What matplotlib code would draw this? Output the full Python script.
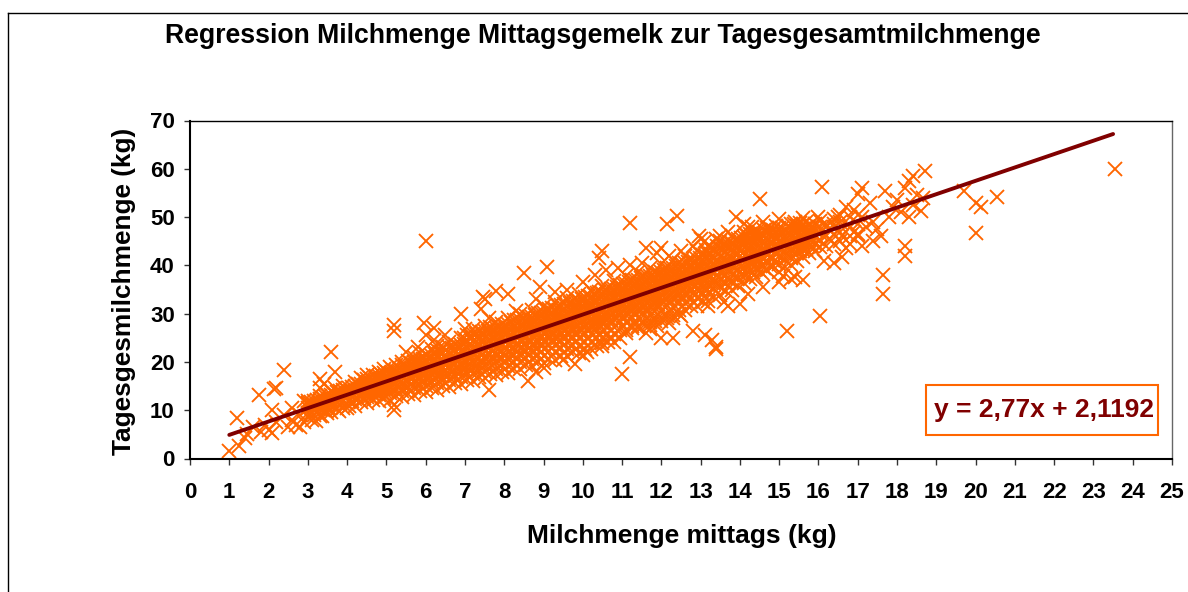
import matplotlib
matplotlib.use("Agg")
import matplotlib.pyplot as plt
from matplotlib.lines import Line2D

plt.rcParams['font.family'] = ['Liberation Sans', 'DejaVu Sans']

title = "Regression Milchmenge Mittagsgemelk zur Tagesgesamtmilchmenge"
x_label = "Milchmenge mittags (kg)"
y_label = "Tagesgesmilchmenge (kg)"
equation = "y = 2,77x + 2,1192"
x_ticks = list(range(0, 26))
y_ticks = list(range(0, 71, 10))
trend_x = [1.0, 23.5]
trend_y = [4.89, 67.2]

# dense core of the cloud, one list of readings per milk-yield column
core_columns = {
 3.0:[8.6,9.5,10.4,11.3,12.0], 3.15:[9.0,10.1,11.0,11.9], 3.3:[8.9,10.2,11.2,12.3,13.0], 3.45:[9.8,10.9,11.8,12.7],
 3.6:[9.7,11.0,12.2,13.2,14.0], 3.75:[10.3,11.5,12.6,13.7], 3.9:[10.4,11.9,13.0,14.2,15.0], 4.05:[10.8,12.0,13.4,14.5],
 4.2:[10.9,12.4,13.7,15.0,15.9], 4.35:[11.6,12.9,14.3,15.5,16.6], 4.5:[11.5,12.7,14.0,15.3,16.5,17.3], 4.65:[12.1,13.4,14.9,16.1,17.2],
 4.8:[12.0,13.2,14.5,15.8,17.0,18.0], 4.95:[12.6,13.9,15.2,16.5,17.8,18.6], 5.1:[12.2,13.6,14.9,16.2,17.5,18.9], 5.25:[12.9,14.3,15.7,17.0,18.2,19.4],
 5.4:[12.8,14.0,15.4,16.8,18.1,19.3,20.0], 5.55:[13.4,14.8,16.1,17.5,18.8,20.2], 5.7:[13.2,14.5,15.9,17.2,18.6,19.9,21.0], 5.85:[13.9,15.3,16.6,18.0,19.3,20.7,21.9],
 6.0:[13.8,15.1,16.4,17.8,19.1,20.5,21.7], 6.15:[14.5,15.8,17.2,18.5,19.9,21.2,22.6], 6.3:[14.2,15.6,17.0,18.4,19.7,21.1,22.4,23.4], 6.45:[15.0,16.3,17.7,19.0,20.4,21.8,23.1],
 6.6:[14.9,16.2,17.5,18.9,20.3,21.6,23.0,24.1], 6.75:[15.6,17.0,18.3,19.7,21.1,22.4,23.8], 6.9:[15.4,16.8,18.2,19.5,20.9,22.3,23.6,25.0], 7.05:[16.2,17.5,18.9,20.3,21.6,23.0,24.4,25.6],
 7.2:[16.0,17.4,18.8,20.2,21.6,22.9,24.3,25.7,26.8], 7.35:[16.8,18.1,19.5,20.9,22.3,23.7,25.0,26.4], 7.5:[16.6,18.0,19.4,20.8,22.2,23.6,25.0,26.4,27.5], 7.65:[17.5,18.9,20.3,21.7,23.1,24.5,25.9,27.3],
 7.8:[17.2,18.6,20.0,21.4,22.8,24.2,25.6,27.0,28.3], 7.95:[18.0,19.4,20.8,22.2,23.6,25.0,26.4,27.8], 8.1:[17.8,19.2,20.7,22.1,23.5,24.9,26.3,27.8,29.0], 8.25:[18.6,20.0,21.5,22.9,24.3,25.7,27.2,28.6],
 8.4:[18.6,20.0,21.4,22.9,24.3,25.7,27.2,28.6,30.0], 8.55:[19.4,20.8,22.3,23.7,25.2,26.6,28.0,29.5], 8.7:[19.2,20.6,22.1,23.5,25.0,26.5,27.9,29.4,30.8], 8.85:[20.0,21.5,22.9,24.4,25.8,27.3,28.8,30.2],
 9.0:[19.8,21.3,22.7,24.2,25.7,27.2,28.6,30.1,31.6], 9.15:[20.7,22.2,23.6,25.1,26.6,28.1,29.5,31.0], 9.3:[20.5,22.0,23.5,25.0,26.5,28.0,29.5,31.0,32.4], 9.45:[21.3,22.8,24.3,25.8,27.3,28.8,30.3,31.8],
 9.6:[21.2,22.7,24.2,25.7,27.2,28.7,30.2,31.7,33.2], 9.75:[22.0,23.5,25.0,26.6,28.1,29.6,31.1,32.6], 9.9:[21.9,23.4,24.9,26.5,28.0,29.5,31.0,32.6,34.0], 10.05:[22.6,24.2,25.7,27.3,28.8,30.3,31.9,33.4],
 10.2:[22.6,24.1,25.7,27.2,28.8,30.3,31.9,33.4,35.0], 10.35:[23.4,25.0,26.5,28.1,29.6,31.2,32.7,34.3], 10.5:[23.3,24.9,26.4,28.0,29.6,31.1,32.7,34.3,35.8], 10.65:[24.2,25.7,27.3,28.9,30.4,32.0,33.6,35.1],
 10.8:[24.2,25.7,27.3,28.9,30.5,32.1,33.6,35.2,36.7], 10.95:[25.0,26.6,28.2,29.8,31.3,32.9,34.5,36.0], 11.1:[26.0,26.6,28.2,29.8,31.4,33.0,34.5,36.1,37.7], 11.25:[27.0,27.4,29.0,30.6,32.2,33.8,35.4,36.9],
 11.4:[27.0,27.4,29.0,30.6,32.2,33.8,35.4,37.0,38.6], 11.55:[27.6,28.2,29.8,31.4,33.0,34.6,36.2,37.8], 11.7:[27.6,28.2,29.8,31.4,33.0,34.6,36.2,37.8,39.4], 11.85:[28.4,29.0,30.6,32.2,33.8,35.4,37.1,38.7],
 12.0:[28.4,29.0,30.6,32.3,33.9,35.5,37.1,38.7,40.3], 12.15:[29.2,29.8,31.5,33.1,34.7,36.3,37.9,39.5], 12.3:[29.2,29.8,31.4,33.1,34.7,36.3,37.9,39.5,41.1], 12.45:[30.0,30.7,32.3,33.9,35.5,37.1,38.8,40.4],
 12.6:[30.7,32.3,33.9,35.5,37.2,38.8,40.4,42.0], 12.75:[31.5,33.1,34.8,36.4,38.0,39.6,41.2], 12.9:[31.5,33.2,34.8,36.4,38.1,39.7,41.3,42.9], 13.05:[32.4,34.0,35.6,37.3,38.9,40.5,42.1],
 13.2:[32.6,34.3,35.9,37.5,39.2,40.8,42.4,44.0], 13.35:[33.5,35.1,36.7,38.4,40.0,41.6,43.2], 13.5:[33.8,35.5,37.1,38.7,40.4,42.0,43.6,45.1], 13.65:[34.6,36.3,37.9,39.5,41.2,42.8,44.3],
 13.8:[35.0,36.6,38.3,39.9,41.5,43.1,44.7,46.0], 13.95:[35.8,37.4,39.1,40.7,42.3,43.9,45.5], 14.1:[36.3,37.9,39.5,41.2,42.8,44.4,45.9,47.0], 14.25:[37.2,38.8,40.4,42.0,43.6,45.2,46.5],
 14.4:[37.6,39.2,40.9,42.5,44.1,45.6,47.0], 14.55:[38.5,40.1,41.7,43.3,44.9,46.3], 14.7:[39.0,40.6,42.2,43.8,45.3,46.8,47.8], 14.85:[39.9,41.5,43.1,44.6,46.1,47.4],
 15.0:[38.7,40.3,41.9,43.5,45.0,46.5,47.8], 15.15:[39.6,41.2,42.8,44.3,45.8,47.2], 15.3:[40.0,41.6,43.2,44.7,46.2,47.6,48.6], 15.45:[41.0,42.5,44.0,45.5,46.9,48.1],
 15.6:[41.7,43.2,44.6,46.1,47.5,48.6], 15.75:[42.6,44.0,45.4,46.8,48.1], 15.9:[43.0,44.5,45.9,47.3,48.6], 16.05:[43.8,45.2,46.6,48.0,49.2],
}

# further readings packed around the regression line
fill_columns = {
 3.075:[9.4,10.6,11.7], 3.225:[9.8,11.0,12.2], 3.375:[10.1,11.5,12.6], 3.525:[10.6,11.9,13.1], 3.675:[10.9,12.3,13.6], 3.825:[11.2,12.7,14.0],
 3.975:[11.5,13.1,14.4], 4.125:[11.9,13.5,14.9], 4.275:[12.3,14.0,15.4], 4.425:[12.6,13.8,15.0,16.2], 4.575:[13.0,14.2,15.4,16.6], 4.725:[13.4,14.6,15.8,17.0],
 4.875:[13.7,15.0,16.2,17.4], 5.025:[14.0,15.4,16.6,17.9], 5.175:[14.4,15.8,17.1,18.4], 5.325:[14.7,16.2,17.5,18.8], 5.475:[15.1,16.6,17.9,19.2], 5.625:[15.5,17.0,18.4,19.7],
 5.775:[15.8,17.4,18.8,20.2], 5.925:[16.2,17.8,19.2,20.6], 6.075:[16.5,18.1,19.6,21.1], 6.225:[16.9,18.6,20.1,21.6], 6.375:[17.2,19.0,20.5,22.0], 6.525:[17.6,19.4,20.9,22.5],
 6.675:[17.9,19.8,21.3,22.9], 6.825:[18.3,20.2,21.7,23.4], 6.975:[18.6,20.5,22.1,23.8,25.0], 7.125:[18.8,20.7,22.3,23.8,25.3], 7.275:[19.2,21.1,22.7,24.2,25.7], 7.425:[19.6,21.5,23.1,24.6,26.1],
 7.575:[20.0,21.9,23.5,25.0,26.5], 7.725:[20.4,22.3,23.9,25.4,26.9], 7.875:[20.8,22.7,24.3,25.8,27.3], 8.025:[21.2,23.1,24.7,26.2,27.7], 8.175:[21.7,23.6,25.2,26.7,28.2], 8.325:[22.1,24.0,25.6,27.1,28.6],
 8.475:[22.5,24.4,26.0,27.5,29.0], 8.625:[22.9,24.8,26.4,27.9,29.4], 8.775:[23.3,25.2,26.8,28.3,29.8], 8.925:[23.7,25.6,27.2,28.7,30.2], 9.075:[24.2,26.1,27.7,29.2,30.7], 9.225:[24.6,26.5,28.1,29.6,31.1],
 9.375:[25.0,26.9,28.5,30.0,31.5], 9.525:[25.4,27.3,28.9,30.4,31.9], 9.675:[25.8,27.7,29.3,30.8,32.3], 9.825:[26.2,28.1,29.7,31.2,32.7], 9.975:[26.6,28.5,30.1,31.6,33.1], 10.125:[27.1,29.0,30.6,32.1,33.6],
 10.275:[27.5,29.4,31.0,32.5,34.0], 10.425:[27.9,29.8,31.4,32.9,34.4], 10.575:[28.3,30.2,31.8,33.3,34.8], 10.725:[28.7,30.6,32.2,33.7,35.2], 10.875:[29.1,31.0,32.6,34.1,35.6], 11.025:[29.6,31.5,33.1,34.6,36.1],
 11.175:[30.0,31.9,33.5,35.0,36.5], 11.325:[30.4,32.3,33.9,35.4,36.9], 11.475:[30.8,32.7,34.3,35.8,37.3], 11.625:[31.2,33.1,34.7,36.2,37.7], 11.775:[31.6,33.5,35.1,36.6,38.1], 11.925:[32.0,33.9,35.5,37.0,38.5],
 12.075:[32.5,34.4,36.0,37.5,39.0], 12.225:[32.9,34.8,36.4,37.9,39.4], 12.375:[33.3,35.2,36.8,38.3,39.8], 12.525:[33.7,35.6,37.2,38.7,40.2], 12.675:[34.1,36.0,37.6,39.1,40.6], 12.825:[34.5,36.4,38.0,39.5,41.0],
 12.975:[35.0,36.9,38.5,40.0,41.5], 13.125:[35.4,37.3,38.9,40.4,41.9,43.2], 13.275:[35.8,37.7,39.3,40.8,42.3,43.6], 13.425:[36.2,38.1,39.7,41.2,42.7,44.0], 13.575:[36.6,38.5,40.1,41.6,43.1,44.4], 13.725:[37.0,38.9,40.5,42.0,43.5,44.8],
 13.875:[37.5,39.4,41.0,42.5,44.0,45.3], 14.025:[37.9,39.8,41.4,42.9,44.4,45.7], 14.175:[38.3,40.2,41.8,43.3,44.8,46.1], 14.325:[38.7,40.6,42.2,43.7,45.2,46.5], 14.475:[39.1,41.0,42.6,44.1,45.6,46.9], 14.625:[39.5,41.4,43.0,44.5,46.0,47.3],
 14.775:[39.9,41.8,43.4,44.9,46.4,47.7], 14.925:[40.4,42.3,43.9,45.4,46.9,48.1], 15.075:[41.8,43.3,44.9,46.4,47.8], 15.225:[42.2,43.7,45.3,46.8,48.2], 15.375:[42.6,44.1,45.7,47.2,48.5], 15.525:[43.0,44.5,46.1,47.6,48.8],
 15.675:[43.4,44.9,46.5,47.9,49.0], 15.825:[44.0,45.4,46.9,48.2], 16.2:[44.0,46.0,48.0], 16.4:[44.5,46.5,48.5,49.5], 16.55:[45.0,47.0,49.0,50.5], 16.8:[46.0,48.0,50.0], 17.0:[46.0,48.5,50.5],
}

# sparse readings along the edges of the cloud and the outliers
edge_points = [
 (1.0,1.5),(1.2,8.3),(1.25,2.5),(1.4,4.2),(1.45,5.0),(1.75,13.2),(1.6,6.5),(1.8,5.5),(1.9,7.0),(2.0,6.0),(2.1,10.0),(2.15,14.3),(2.2,14.5),(2.1,5.2),(2.2,7.5),
 (2.4,18.3),(2.4,9.0),(2.5,6.5),(2.6,8.0),(2.7,7.0),(2.8,9.0),(2.9,12.0),(2.9,7.5),(3.0,11.5),(3.1,8.0),(3.3,16.5),(3.3,14.5),(3.35,8.8),(3.4,15.5),(3.6,22.0),
 (3.5,9.5),(3.7,18.0),(3.7,14.5),(3.8,9.8),(4.0,10.5),(5.2,27.7),(5.2,26.5),(5.2,10.0),(5.2,11.0),(5.95,28.0),(6.2,27.0),(6.0,25.5),(6.0,45.0),(6.9,30.0),(7.4,31.0),
 (7.45,33.5),(7.5,33.0),(7.8,34.7),(8.1,34.0),(8.5,38.5),(9.1,39.6),(8.9,35.5),(7.6,14.2),(8.6,16.0),(8.8,18.0),(9.0,18.8),(9.5,20.5),(9.8,19.5),(10.0,21.5),(10.1,22.0),
 (10.5,24.0),(10.7,25.0),(10.4,41.5),(10.5,43.0),(11.0,17.5),(11.2,21.0),(11.2,48.8),(11.6,26.0),(11.7,26.8),(11.9,42.5),(12.0,43.5),(12.3,25.0),(12.15,48.5),(12.4,50.3),
 (12.8,26.5),(13.0,45.5),(13.1,25.5),(13.3,24.5),(13.4,23.0),(13.4,22.6),(11.6,43.5),(12.0,25.0),(12.95,46.0),(13.5,46.0),(13.9,50.0),(14.4,46.5),(14.5,53.7),(14.1,48.5),
 (14.3,48.0),(13.7,31.5),(14.0,32.0),(15.2,26.5),(15.1,37.7),(15.3,37.2),(15.4,37.5),(15.6,37.0),(15.4,49.0),(16.05,29.5),(16.1,56.2),(16.15,41.0),(16.2,48.5),(16.4,40.5),
 (16.6,41.7),(16.7,43.5),(16.5,50.0),(16.3,45.5),(16.4,48.0),(16.6,46.0),(16.7,52.0),(16.8,44.5),(16.9,47.0),(16.9,51.5),(17.0,54.8),(17.0,46.5),(17.1,50.0),(17.1,44.0),
 (17.1,56.0),(17.2,48.0),(17.3,53.0),(17.4,45.0),(17.4,49.0),(17.5,47.5),(17.6,46.0),(17.65,38.0),(17.65,34.0),(17.7,55.3),(17.8,50.0),(17.9,52.0),(18.0,53.5),(18.1,51.0),
 (18.2,56.0),(18.2,44.0),(18.2,42.0),(18.3,50.0),(18.3,57.5),(18.4,52.5),(18.4,58.5),(18.5,54.5),(18.6,51.3),(18.65,54.0),(18.7,59.5),(19.7,55.5),(20.0,46.7),(20.0,53.0),
 (20.15,52.0),(20.55,54.2),(23.55,60.0),
 # upper fringe
 (5.5,22.0),(5.8,23.0),(6.2,24.5),(6.5,25.5),(7.0,26.8),(7.6,29.0),(8.3,30.5),(8.8,33.0),(9.3,34.5),(9.6,35.0),(10.0,36.5),(10.3,38.0),(10.6,39.0),(10.9,39.5),(11.2,40.0),(11.5,40.5),
 (12.2,42.0),(12.5,43.0),(12.8,44.0),(13.1,45.0),(13.4,45.5),(13.7,47.0),(14.2,48.0),(14.6,49.0),(15.0,49.5),(15.6,49.8),(16.0,50.0),
 # lower fringe
 (11.9,27.5),(12.2,28.0),(12.5,29.5),(13.2,31.5),(13.6,32.5),(14.2,34.0),(14.6,35.5),(15.0,36.5),(2.6,10.5),(2.8,6.5),(3.2,7.8),
]

core_x = [x for col in (core_columns, fill_columns) for x, ys in col.items() for _ in ys]
core_y = [y for col in (core_columns, fill_columns) for ys in col.values() for y in ys]
edge_x = [p[0] for p in edge_points]
edge_y = [p[1] for p in edge_points]

orange = "#FF6600"
dark = "#800000"
W, H = 1188, 592
fig = plt.figure(figsize=(W / 100, H / 100), dpi=100, facecolor="white")
ax = fig.add_axes([190 / W, 1 - 458.5 / H, (1172 - 190) / W, (458.5 - 120.5) / H])
ax.set_xlim(0, 25)
ax.set_ylim(0, 70)

ax.plot(core_x + edge_x, core_y + edge_y, linestyle="none", marker="x", color=orange,
        markersize=9.6, markeredgewidth=1.35, clip_on=False, zorder=2)
ax.plot(trend_x, trend_y, color=dark, linewidth=2.8, solid_capstyle="round", zorder=3)

ax.set_xticks(x_ticks)
ax.set_yticks(y_ticks)
ax.tick_params(axis="both", length=4.5, width=1, color="#333333", labelsize=16)
ax.tick_params(axis="y", pad=6.5)
ax.tick_params(axis="x", pad=12.5)
for lab in ax.get_xticklabels() + ax.get_yticklabels():
    lab.set_fontweight("bold")
ax.spines["left"].set_linewidth(1.5)
ax.spines["bottom"].set_linewidth(1.5)
ax.spines["top"].set_linewidth(1.0)
ax.spines["right"].set_linewidth(1.0)
ax.spines["right"].set_color("#666666")

fig.text(603 / W, 1 - 36 / H, title, ha="center", va="center", fontsize=19.15, fontweight="bold")
fig.text(681.5 / W, 1 - 535.5 / H, x_label, ha="center", va="center", fontsize=19, fontweight="bold")
fig.text(124 / W, 1 - 291 / H, y_label, ha="center", va="center", rotation=90, fontsize=18.9, fontweight="bold")
fig.text(1044 / W, 1 - 410 / H, equation, ha="center", va="center", fontsize=19, fontweight="bold", color=dark, zorder=5)
fig.add_artist(plt.Rectangle((926 / W, 1 - 435 / H), 232 / W, 50 / H, transform=fig.transFigure,
                             fill=False, edgecolor=orange, linewidth=1.5))

# outer chart frame, only its top and left edges fall inside the crop
fig.add_artist(Line2D([8 / W, 1], [1 - 12.5 / H, 1 - 12.5 / H], color="black", linewidth=1))
fig.add_artist(Line2D([8 / W, 8 / W], [1 - 12.5 / H, 0], color="black", linewidth=1))

fig.savefig("out.png", dpi=100)
